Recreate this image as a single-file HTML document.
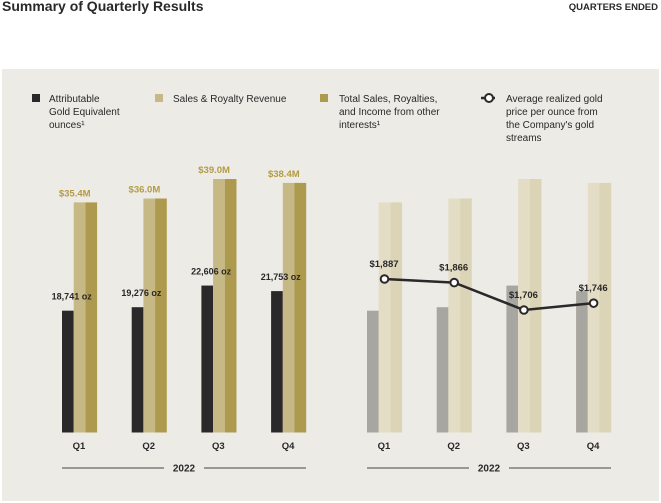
<!DOCTYPE html>
<html><head><meta charset="utf-8"><style>
body{margin:0;width:661px;height:503px;background:#fff;font-family:"Liberation Sans",sans-serif;overflow:hidden;position:relative}
#title{position:absolute;left:2px;top:-2px;font-size:14px;font-weight:bold;color:#2a2828}
#qe{position:absolute;right:3px;top:2px;font-size:9.5px;font-weight:bold;color:#2a2828}
#panel{position:absolute;left:2px;top:69px;width:657px;height:432px;background:#edebe6}
.lg{position:absolute;font-size:10px;line-height:13px;color:#2a2828}
.sw{position:absolute;width:8px;height:8px}
svg{position:absolute;left:0;top:0}
</style></head><body>
<div id="title">Summary of Quarterly Results</div>
<div id="qe">QUARTERS ENDED</div>
<div id="panel"></div>
<div class="sw" style="left:32px;top:94px;background:#2a2828"></div>
<div class="lg" style="left:49px;top:93px">Attributable<br>Gold Equivalent<br>ounces¹</div>
<div class="sw" style="left:155px;top:94px;background:#c7b985"></div>
<div class="lg" style="left:173px;top:93px">Sales &amp; Royalty Revenue</div>
<div class="sw" style="left:320px;top:94px;background:#ae9a4e"></div>
<div class="lg" style="left:339px;top:93px">Total Sales, Royalties,<br>and Income from other<br>interests¹</div>
<svg width="30" height="14" style="left:480px;top:92px"><line x1="1" y1="6" x2="15" y2="6" stroke="#2a2828" stroke-width="2.5"/><circle cx="9" cy="6" r="4" fill="#fff" stroke="#2a2828" stroke-width="2"/></svg>
<div class="lg" style="left:506px;top:93px">Average realized gold<br>price per ounce from<br>the Company's gold<br>streams</div>
<svg id="chart" width="661" height="503"></svg>
<script>
const quarters=["Q1","Q2","Q3","Q4"];
const ounces=[18741,19276,22606,21753];
const ounceLabels=["18,741 oz","19,276 oz","22,606 oz","21,753 oz"];
const sales=[35.4,36.0,39.0,38.4];
const totals=[35.4,36.0,39.0,38.4];
const revLabels=["$35.4M","$36.0M","$39.0M","$38.4M"];
const prices=[1887,1866,1706,1746];
const priceLabels=["$1,887","$1,866","$1,706","$1,746"];
const NS="http://www.w3.org/2000/svg";
const svg=document.getElementById("chart");
const base=432.5;
const yOz=v=>base-v*0.0065;
const yRev=v=>base-v*6.5;
const yPrice=v=>279-(v-1887)*0.1713;
const xL=i=>62+i*69.7, xR=i=>367+i*69.7, bw=11.7;
function mk(t,a,name){const e=document.createElementNS(NS,t);for(const k in a)e.setAttribute(k,a[k]);


svg.appendChild(e);return e;}
function txt(x,y,s,name,fill,anchor,size){const e=mk("text",{x:x,y:y,fill:fill||"#2a2828","font-size":size||9.5,"font-weight":"bold","text-anchor":anchor||"middle","font-family":"Liberation Sans, sans-serif"},name);e.textContent=s;return e;}
quarters.forEach((q,i)=>{
 let x=xL(i);
 mk("rect",{x:x,y:yOz(ounces[i]),width:bw,height:base-yOz(ounces[i]),fill:"#2a2828"},"bar-ounces-"+q);
 mk("rect",{x:x+bw,y:yRev(sales[i]),width:bw,height:base-yRev(sales[i]),fill:"#c7b985"},"bar-sales-"+q);
 mk("rect",{x:x+2*bw,y:yRev(totals[i]),width:bw,height:base-yRev(totals[i]),fill:"#ae9a4e"},"bar-total-"+q);
 txt(x+bw+1,yRev(sales[i])-6,revLabels[i],"revenue-label-"+q,"#b39b43");
 txt(x+bw-2,yOz(ounces[i])-11,ounceLabels[i],"ounces-label-"+q,"#2a2828","middle",9);
 txt(x+17,449,q,"x-label-left-"+q);
 let r=xR(i);
 mk("rect",{x:r,y:yOz(ounces[i]),width:bw,height:base-yOz(ounces[i]),fill:"#a8a6a0"},"bar-ounces-faded-"+q);
 mk("rect",{x:r+bw,y:yRev(sales[i]),width:bw,height:base-yRev(sales[i]),fill:"#e4ddc5"},"bar-sales-faded-"+q);
 mk("rect",{x:r+2*bw,y:yRev(totals[i]),width:bw,height:base-yRev(totals[i]),fill:"#dcd4b7"},"bar-total-faded-"+q);
 txt(r+17,449,q,"x-label-right-"+q);
});
let pts=prices.map((p,i)=>(xR(i)+17.5)+","+yPrice(p)).join(" ");
mk("polyline",{points:pts,fill:"none",stroke:"#2a2828","stroke-width":2.5},"gold-price-line");
prices.forEach((p,i)=>{
 mk("circle",{cx:xR(i)+17.5,cy:yPrice(p),r:3.8,fill:"#fff",stroke:"#2a2828","stroke-width":2},"gold-price-point-"+quarters[i]);
 txt(xR(i)+17,yPrice(p)-12,priceLabels[i],"gold-price-label-"+quarters[i]);
});
[[62,306],[367,611]].forEach((s,k)=>{
 let m=(s[0]+s[1])/2;
 mk("line",{x1:s[0],y1:468,x2:m-20,y2:468,stroke:"#444","stroke-width":1},"year-rule-left-"+k);
 mk("line",{x1:m+20,y1:468,x2:s[1],y2:468,stroke:"#444","stroke-width":1},"year-rule-right-"+k);
 txt(m,471.5,"2022","year-label-"+k,"#2a2828","middle",10);
});
</script>
</body></html>
